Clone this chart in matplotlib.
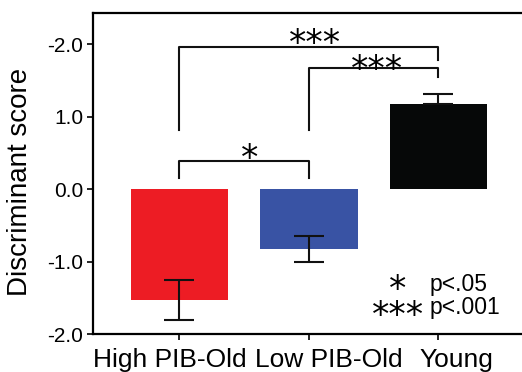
import matplotlib
matplotlib.use('Agg')
import matplotlib.pyplot as plt
import matplotlib.transforms as mtransforms

# group data
groups = ['High PIB-Old', 'Low PIB-Old', 'Young']
means = [-1.53, -0.83, 1.18]
err_low = [0.27, 0.18, 0.0]
err_high = [0.27, 0.18, 0.13]
colors = ['#ED1C24', '#3953A4', '#060808']

ytick_vals = [-2.0, -1.0, 0.0, 1.0, 2.0]
ytick_labels = ['-2.0', '-1.0', '0.0', '1.0', '-2.0']

# significance brackets: (left group, right group, bar height, left leg end, right leg end)
brackets = [
    (0, 2, 1.96, 0.81, 1.78),
    (1, 2, 1.67, 0.81, 1.55),
    (0, 1, 0.39, 0.15, 0.15),
]
# star labels: (x, y, text); y is the centre of the last row
star_labels = [(1.046, 2.11, '***'), (1.525, 1.76, '***'), (0.544, 0.53, '*'),
               (1.685, -1.64, '*\n***')]
legend_text = ['p<.05', 'p<.001']
legend_y = [-1.31, -1.64]

plt.rcParams['font.family'] = ['Liberation Sans', 'DejaVu Sans']

fig = plt.figure(figsize=(5.22, 3.72), dpi=100)
ax = fig.add_axes([0.178, 0.102, 0.822, 0.863])

x = list(range(len(groups)))
ax.bar(x, means, width=0.75, color=colors, zorder=1)
ax.errorbar(x, means, yerr=[err_low, err_high], fmt='none', ecolor='#111111',
            elinewidth=1.5, capsize=11, capthick=1.5, zorder=2)

for l, r, h, hl, hr in brackets:
    ax.plot([l, l, r, r], [hl, h, h, hr], color='#111111', lw=1.5, zorder=3)

# DejaVu asterisk sits high, so drop the baseline to centre it on the point
star_tr = ax.transData + mtransforms.ScaledTranslation(0, -13 / 72.0, fig.dpi_scale_trans)
for sx, sy, s in star_labels:
    ax.text(sx, sy, s, transform=star_tr, ha='center', va='baseline',
            multialignment='center', linespacing=0.69,
            fontsize=25, family='DejaVu Sans', zorder=4)

for t, ty in zip(legend_text, legend_y):
    ax.text(1.934, ty, t, ha='left', va='center', fontsize=16.5)

ax.set_xlim(-0.668, 2.645)
ax.set_ylim(-2.0, 2.43)
# tick marks at bar centres, labels slightly off them as in the original
label_shift = [-0.077, 0.154, 0.139]
ax.set_xticks(x, minor=True)
ax.set_xticks([a + b for a, b in zip(x, label_shift)])
ax.set_xticklabels(groups, fontsize=19)
ax.set_yticks(ytick_vals)
ax.set_yticklabels(ytick_labels, fontsize=15)
ax.set_ylabel('Discriminant score', fontsize=20)
ax.yaxis.set_label_coords(-0.14, 0.474)
ax.tick_params(axis='y', direction='out', length=4, width=1.2, pad=3)
ax.tick_params(axis='x', which='major', length=0, pad=10)
ax.tick_params(axis='x', which='minor', direction='out', length=4, width=1.2)
ax.spines['right'].set_visible(False)
for s in ['left', 'top', 'bottom']:
    ax.spines[s].set_linewidth(1.6)

fig.savefig('out.png', dpi=100)
